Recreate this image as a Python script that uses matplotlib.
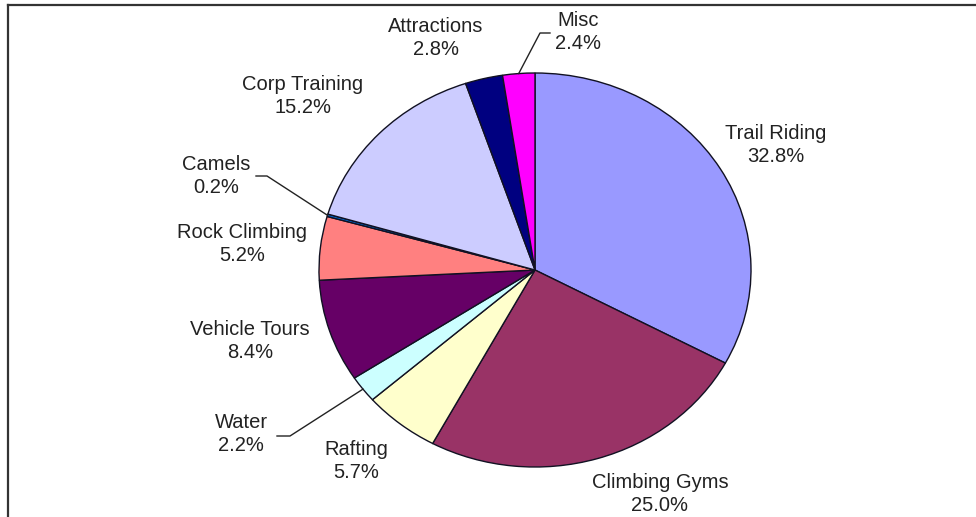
import matplotlib.pyplot as plt
import numpy as np

plt.rcParams['font.family'] = ['Liberation Sans', 'DejaVu Sans']

# revenue share by activity, clockwise from 12 o'clock
categories = ["Trail Riding", "Climbing Gyms", "Rafting", "Water", "Vehicle Tours",
              "Rock Climbing", "Camels", "Corp Training", "Attractions", "Misc"]
shares = [32.8, 25.0, 5.7, 2.2, 8.4, 5.2, 0.2, 15.2, 2.8, 2.4]
colors = ["#9999FF", "#993366", "#FFFFCC", "#CCFFFF", "#660066",
          "#FF8080", "#0066CC", "#CCCCFF", "#000080", "#FF00FF"]

# label block centres in pixels (from top-left)
label_pos = {
    "Trail Riding": (776, 145), "Climbing Gyms": (660, 494), "Rafting": (356, 461),
    "Water": (241, 434), "Vehicle Tours": (250, 341), "Rock Climbing": (242, 244),
    "Camels": (216, 176), "Corp Training": (303, 96), "Attractions": (436, 38),
    "Misc": (578, 32),
}
# leader lines: text-side start and elbow, in pixels
leaders = {
    "Camels": [(256, 176), (267, 176)],
    "Water": [(277, 436), (290, 436)],
    "Misc": [(550, 33), (540, 33)],
}

W, H = 976, 517
cx, cy, rx, ry = 535, 270, 216, 197


def px(x, y):
    return (x - cx) / rx, (cy - y) / ry


fig = plt.figure(figsize=(W / 100, H / 100), dpi=100)
ax = fig.add_axes([0, 0, 1, 1])
ax.set_xlim(-cx / rx, (W - cx) / rx)
ax.set_ylim((cy - H) / ry, cy / ry)
ax.axis("off")

wedges, _ = ax.pie(shares, colors=colors, startangle=90, counterclock=False,
                   radius=1, center=(0, 0), frame=True,
                   wedgeprops=dict(edgecolor="#111122", linewidth=1))
ax.set_aspect("auto")
ax.set_xlim(-cx / rx, (W - cx) / rx)
ax.set_ylim((cy - H) / ry, cy / ry)
ax.axis("off")

for name, val, w in zip(categories, shares, wedges):
    x, y = px(*label_pos[name])
    ax.text(x, y, f"{name}\n{val:.1f}%", ha="center", va="center",
            fontsize=14.5, color="#222222", linespacing=1.3)
    if name in leaders:
        mid = np.deg2rad((w.theta1 + w.theta2) / 2)
        pts = [px(*p) for p in leaders[name]] + [(np.cos(mid), np.sin(mid))]
        xs, ys = zip(*pts)
        ax.plot(xs, ys, color="#222222", linewidth=1)

# chart frame (left and top edges)
fig.add_artist(plt.Line2D([8 / W, 8 / W], [0, 1 - 5 / H], color="#333333", linewidth=1.6))
fig.add_artist(plt.Line2D([8 / W, 1], [1 - 5 / H, 1 - 5 / H], color="#333333", linewidth=1.6))

fig.savefig("out.png", dpi=100, facecolor="white")
